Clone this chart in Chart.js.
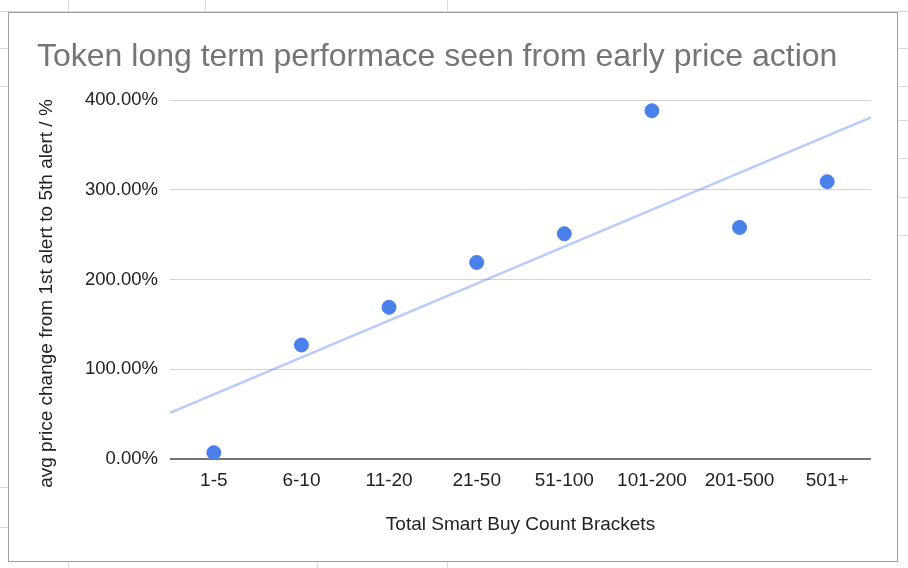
<!DOCTYPE html>
<html>
<head>
<meta charset="utf-8">
<script src="https://cdn.jsdelivr.net/npm/chart.js@4/dist/chart.umd.min.js"></script>
<style>
    html, body {
        margin: 0;
        padding: 0;
        background: #ffffff;
        width: 908px;
        height: 568px;
        overflow: hidden;
        font-family: "Liberation Sans", Arial, sans-serif;
    }
    .sheet-line {
        position: absolute;
        background: #d9d9d9;
    }
    .card {
        position: absolute;
        left: 8px;
        top: 12px;
        width: 890px;
        height: 550px;
        box-sizing: border-box;
        border: 1px solid #9e9e9e;
        background: #ffffff;
    }
    .chart-box {
        position: absolute;
        left: 9px;
        top: 13px;
        width: 888px;
        height: 548px;
    }
</style>
</head>
<body>
<!-- spreadsheet grid peeking out behind the chart -->
<div class="sheet-line" style="left:0;top:11px;width:908px;height:1px;"></div>
<div class="sheet-line" style="left:68px;top:0;width:1px;height:12px;"></div>
<div class="sheet-line" style="left:205px;top:0;width:1px;height:12px;"></div>
<div class="sheet-line" style="left:447px;top:0;width:1px;height:12px;"></div>
<div class="sheet-line" style="left:0;top:48px;width:8px;height:1px;"></div>
<div class="sheet-line" style="left:0;top:86px;width:8px;height:1px;"></div>
<div class="sheet-line" style="left:0;top:487px;width:8px;height:1px;"></div>
<div class="sheet-line" style="left:0;top:527px;width:8px;height:1px;"></div>
<div class="sheet-line" style="left:898px;top:48px;width:10px;height:1px;"></div>
<div class="sheet-line" style="left:898px;top:86px;width:10px;height:1px;"></div>
<div class="sheet-line" style="left:898px;top:120px;width:10px;height:1px;"></div>
<div class="sheet-line" style="left:898px;top:158px;width:10px;height:1px;"></div>
<div class="sheet-line" style="left:898px;top:197px;width:10px;height:1px;"></div>
<div class="sheet-line" style="left:898px;top:235px;width:10px;height:1px;"></div>
<div class="sheet-line" style="left:68px;top:561px;width:1px;height:7px;"></div>
<div class="sheet-line" style="left:317px;top:561px;width:1px;height:7px;"></div>
<div class="sheet-line" style="left:447px;top:561px;width:1px;height:7px;"></div>

<div class="card"></div>
<div class="chart-box"><canvas id="trendChart"></canvas></div>

<script>
    const brackets = ["1-5", "6-10", "11-20", "21-50", "51-100", "101-200", "201-500", "501+"];
    const avgPriceChange = [7, 127, 169, 219, 251, 388, 258, 309];
    const yTickValues = [0, 100, 200, 300, 400];

    const yTitle = "avg price change from 1st alert to 5th alert / %";
    const positions = brackets.map((label, i) => i + 1);
    const xMin = 0.5;
    const xMax = brackets.length + 0.5;

    // least squares trendline over the bracket index, like the sheet does
    function getTrendline(xs, ys) {
        const n = xs.length;
        const meanX = xs.reduce((s, v) => s + v, 0) / n;
        const meanY = ys.reduce((s, v) => s + v, 0) / n;
        let sxy = 0;
        let sxx = 0;
        xs.forEach((x, i) => {
            sxy += (x - meanX) * (ys[i] - meanY);
            sxx += (x - meanX) * (x - meanX);
        });
        const slope = sxy / sxx;
        const at = (x) => meanY + slope * (x - meanX);
        return [
            { x: xMin, y: at(xMin) },
            { x: xMax, y: at(xMax) }
        ];
    }

    // sheets puts the vertical axis title a bit below the plot's middle
    const yTitlePlugin = {
        id: "yTitle",
        afterDraw(chart) {
            const { ctx, chartArea } = chart;
            ctx.save();
            ctx.translate(chartArea.left - 123, (chartArea.top + chartArea.bottom) / 2 + 14);
            ctx.rotate(-Math.PI / 2);
            ctx.fillStyle = "#222222";
            ctx.font = "19px 'Liberation Sans'";
            ctx.textAlign = "center";
            ctx.textBaseline = "middle";
            ctx.fillText(yTitle, 0, 0);
            ctx.restore();
        }
    };

    const points = positions.map((x, i) => ({ x, y: avgPriceChange[i] }));
    const trend = getTrendline(positions, avgPriceChange);

    new Chart(document.getElementById("trendChart"), {
        type: "scatter",
        data: {
            datasets: [
                {
                    label: "avg price change",
                    data: points,
                    backgroundColor: "#4a80ea",
                    borderColor: "#4a80ea",
                    pointRadius: 7,
                    pointHoverRadius: 7,
                    order: 0
                },
                {
                    type: "line",
                    label: "Trendline",
                    data: trend,
                    borderColor: "rgba(74, 128, 234, 0.4)",
                    borderWidth: 2.5,
                    pointRadius: 0,
                    fill: false,
                    order: 1
                }
            ]
        },
        options: {
            responsive: true,
            maintainAspectRatio: false,
            animation: false,
            layout: {
                padding: { left: 28, right: 26, top: 0, bottom: 22 }
            },
            plugins: {
                legend: { display: false },
                tooltip: { enabled: false },
                title: {
                    display: true,
                    text: "Token long term performace seen from early price action",
                    align: "start",
                    color: "#757575",
                    font: { family: "Liberation Sans", size: 32, weight: "normal" },
                    padding: { top: 25, bottom: 23.6 }
                }
            },
            scales: {
                x: {
                    type: "linear",
                    min: xMin,
                    max: xMax,
                    afterBuildTicks: (axis) => {
                        axis.ticks = positions.map((value) => ({ value }));
                    },
                    afterFit: (axis) => {
                        axis.height = 80;
                    },
                    ticks: {
                        autoSkip: false,
                        maxRotation: 0,
                        padding: 2,
                        color: "#222222",
                        font: { family: "Liberation Sans", size: 19 },
                        callback: (value) => brackets[value - 1] || ""
                    },
                    grid: { display: false },
                    border: { display: false },
                    title: {
                        display: true,
                        text: "Total Smart Buy Count Brackets",
                        color: "#222222",
                        font: { family: "Liberation Sans", size: 19 },
                        padding: { top: 0, bottom: 3 }
                    }
                },
                y: {
                    min: yTickValues[0],
                    max: yTickValues[yTickValues.length - 1],
                    afterBuildTicks: (axis) => {
                        axis.ticks = yTickValues.map((value) => ({ value }));
                    },
                    afterFit: (axis) => {
                        axis.width = 133;
                    },
                    ticks: {
                        padding: 12,
                        color: "#222222",
                        font: { family: "Liberation Sans", size: 18.5 },
                        callback: (value) => value.toFixed(2) + "%"
                    },
                    grid: {
                        drawTicks: false,
                        color: (ctx) => (ctx.tick && ctx.tick.value === 0 ? "#757575" : "#d4d4d4"),
                        lineWidth: (ctx) => (ctx.tick && ctx.tick.value === 0 ? 2 : 1)
                    },
                    border: { display: false },
                    title: { display: false }
                }
            }
        },
        plugins: [yTitlePlugin]
    });
</script>
</body>
</html>
